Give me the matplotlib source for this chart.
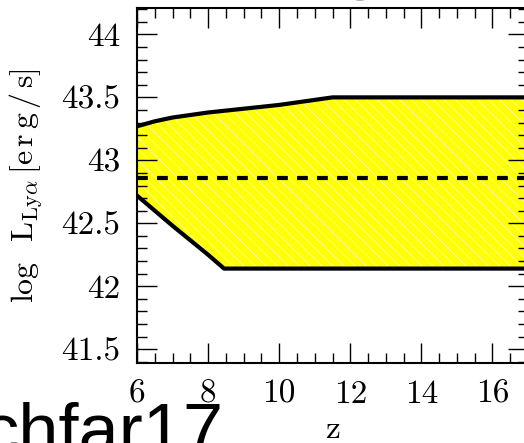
#! /usr/bin/env python3

# Allowed range of the Lya luminosity as a function of redshift
# (shaded band) with the mean value as a dashed line.

import numpy as np
import matplotlib
matplotlib.use("Agg")
import matplotlib.pyplot as plt
from matplotlib.ticker import MultipleLocator, FuncFormatter

# upper and lower edge of the allowed band
z_upper = np.array([6.0, 6.5, 7.0, 8.0, 9.0, 10.0, 11.0, 11.5, 17.0])
L_upper = np.array([43.27, 43.31, 43.34, 43.38, 43.41, 43.44, 43.48, 43.50, 43.50])

z_lower = np.array([6.0, 7.0, 8.0, 8.45, 17.0])
L_lower = np.array([42.72, 42.48, 42.25, 42.14, 42.14])

# mean value
z_mean = np.array([6.0, 17.0])
L_mean = np.array([42.86, 42.86])

xlabel = 'z'
ylabel = r'$\log\;\;\mathrm{L}_{\mathrm{Ly}\alpha}\,[\mathrm{e\,r\,g\,/\,s}]$'
leftover_text = 'chfar17'

matplotlib.rcParams['font.family'] = 'serif'
matplotlib.rcParams['font.serif'] = ['cmr10', 'DejaVu Serif']
matplotlib.rcParams['mathtext.fontset'] = 'cm'
matplotlib.rcParams['axes.formatter.use_mathtext'] = True
matplotlib.rcParams['hatch.linewidth'] = 0.5

W, H = 524, 443
fig = plt.figure(figsize=(W / 100, H / 100), dpi=100)
ax = fig.add_axes([137 / W, (H - 363) / H, 391 / W, 355 / H])

# common z grid so the band can be filled between both edges
zz = np.union1d(z_upper, z_lower)
up = np.interp(zz, z_upper, L_upper)
lo = np.interp(zz, z_lower, L_lower)
ax.fill_between(zz, lo, up, facecolor='#ffff00', edgecolor='#ffffc8',
                hatch='\\' * 3, linewidth=0, zorder=1)

ax.plot(z_upper, L_upper, color='black', lw=3, solid_joinstyle='round', zorder=3)
ax.plot(z_lower, L_lower, color='black', lw=3, solid_joinstyle='round', zorder=3)
ax.plot(z_mean, L_mean, color='black', lw=3, dashes=(2.6, 2.2), zorder=4)

ax.set_xlim(6, 17)
ax.set_ylim(41.39, 44.21)

ax.xaxis.set_major_locator(MultipleLocator(2))
ax.xaxis.set_minor_locator(MultipleLocator(0.5))
ax.yaxis.set_major_locator(MultipleLocator(0.5))
ax.yaxis.set_minor_locator(MultipleLocator(0.1))
ax.yaxis.set_major_formatter(FuncFormatter(lambda v, p: '%g' % v))
ax.xaxis.set_major_formatter(FuncFormatter(lambda v, p: '%g' % v))

ax.tick_params(which='both', direction='in', top=True, right=True,
               width=1.0, labelsize=24)
ax.tick_params(which='major', length=14.5, pad=12)
ax.tick_params(which='minor', length=7.2)
for s in ax.spines.values():
    s.set_linewidth(1.5)

ax.set_xlabel(xlabel, fontsize=24)
ax.xaxis.set_label_coords(0.5, -0.145)
ax.set_ylabel(ylabel, fontsize=23)
ax.yaxis.set_label_coords(-0.235, 0.5)

# pieces of the neighbouring panels' titles that are cut by the crop
fig.text(224 / W, -10 / H, leftover_text, ha='right', va='baseline',
         fontsize=52, family='Liberation Sans')
fig.text(360 / W, 1 - 0.5 / H, 'o', ha='center', va='baseline',
         fontsize=52, family='Liberation Sans', color='#555555')

plt.savefig('out.png', dpi=100)
